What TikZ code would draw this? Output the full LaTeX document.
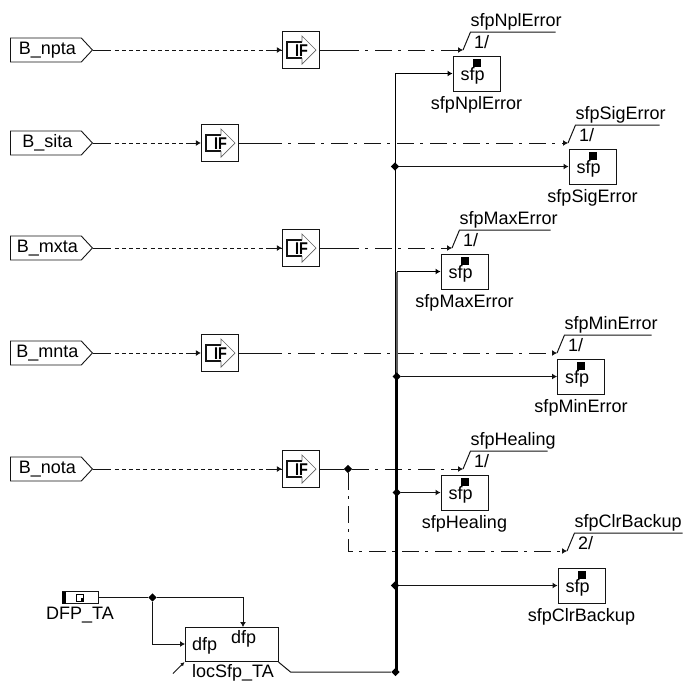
\documentclass[tikz,border=0pt]{standalone}
\usepackage{fontspec}
\setmainfont{Liberation Sans}
\usetikzlibrary{arrows.meta,positioning,calc,shapes.symbols,shapes.geometric}
\definecolor{lineblack}{RGB}{20,20,20}
\definecolor{arrowgray}{RGB}{95,95,95}
\tikzset{
  tagbox/.style={signal, signal to=east, signal pointer angle=94, draw=lineblack, line width=0.9pt, minimum width=82, minimum height=24, inner sep=0pt, anchor=west},
  ifblock/.style={draw=lineblack, line width=1.1pt, minimum size=37, inner sep=0pt},
  ifshaft/.style={line width=1.1pt, lineblack},
  ifhead/.style={line width=0.7pt, arrowgray},
  iftext/.style={font=\fontsize{17}{17}\selectfont\bfseries, inner sep=0pt, xscale=0.85, transform shape},
  sfpblock/.style={draw=lineblack, line width=1pt, minimum width=47, minimum height=35, inner sep=0pt},
  sfptext/.style={inner sep=0pt, anchor=base west},
  sigline/.style={line width=1pt, lineblack},
  dotline/.style={sigline, dash pattern=on 4pt off 3.2pt},
  dashdot/.style={sigline, dash pattern=on 17pt off 6pt on 3pt off 7pt},
  tiparrow/.style={-{Latex[length=5pt,width=6pt]}},
  busline/.style={line width=1pt, black},
  junc/.style={diamond, fill=black, inner sep=0pt, minimum size=8.5},
}
\begin{document}
\begin{tikzpicture}[x=1pt,y=-1pt,font=\fontsize{18}{20}\selectfont]
\useasboundingbox (0,0) rectangle (684,686);
% input tags and IF blocks
\foreach \nm/\txt/\ry/\ix in {npta/B\_npta/50/301,sita/B\_sita/143/220,mxta/B\_mxta/248/301,mnta/B\_mnta/353/220,nota/B\_nota/469/301}{
  \node[tagbox] (tag\nm) at (10,\ry) {\hspace*{3pt}\txt};
  \node[ifblock] (if\nm) at (\ix,\ry) {};
  \draw[ifshaft,shift={(if\nm.center)}] (1,-8) -- (-14,-8) -- (-14,8) -- (1,8);
  \draw[ifhead,shift={(if\nm.center)}] (1,-8) -- (1,-14) -- (15,0) -- (1,14) -- (1,8);
  \node[iftext] (iflbl\nm) at ($(if\nm.center)+(0.5,0.5)$) {IF};
  \draw[dotline] (tag\nm.east) -- (if\nm.west);
  \draw[sigline] (tag\nm.east) -- ++(14,0);
  \draw[sigline,tiparrow] (if\nm.west) ++(-15,0) -- (if\nm.west);
}
% sfp blocks with their message labels
\foreach \nm/\txt/\bx/\by/\tx/\ty/\len/\cnt in {npl/sfpNplError/476.5/73.5/463/50/85/1,sig/sfpSigError/592.5/166.5/568/143/84/1,max/sfpMaxError/464.5/271.5/452/248/91/1,min/sfpMinError/581/376.5/557/353/87/1,heal/sfpHealing/464.5/492.5/463/469/77/1,clr/sfpClrBackup/581.5/585.5/567/551/108/2}{
  \node[sfpblock] (\nm) at (\bx,\by) {};
  \node[sfptext] (\nm txt) at ($(\nm.west)+(8,7)$) {sfp};
  \fill ($(\nm.north)+(-4,3)$) rectangle ++(8,8);
  \node[below=5pt of \nm, inner sep=0pt] (\nm cap) {\txt};
  \coordinate (\nm tip) at (\tx,\ty);
  \coordinate (\nm top) at ($(\nm tip)+(7.5,-18)$);
  \draw[sigline] (\nm tip) -- (\nm top) -- ++(\len,0);
  \node[sfptext] (\nm name) at ($(\nm top)+(0,-6)$) {\txt};
  \node[sfptext] (\nm cnt) at ($(\nm top)+(3.5,16)$) {\cnt/};
}
% message lines
\draw[sigline] (ifnpta.east) -- ++(22,0);
\draw[dashdot,tiparrow] (ifnpta.east) ++(22,0) -- (npltip);
\draw[sigline] (ifsita.east) -- ++(26,0);
\draw[dashdot,tiparrow] (ifsita.east) ++(26,0) -- (sigtip);
\draw[sigline] (ifmxta.east) -- ++(22,0);
\draw[dashdot,tiparrow] (ifmxta.east) ++(22,0) -- (maxtip);
\draw[sigline] (ifmnta.east) -- ++(26,0);
\draw[dashdot,tiparrow] (ifmnta.east) ++(26,0) -- (mintip);
\node[junc] (jnota) at (348,469) {};
\draw[sigline] (ifnota.east) -- (jnota);
\draw[dashdot,tiparrow] (jnota) -- (healtip);
\draw[dashdot,tiparrow] (jnota) |- (clrtip);
% dfp block
\node[draw=lineblack, line width=1pt, minimum width=93, minimum height=34.5, inner sep=0pt] (loc) at (231.5,644.3) {};
\node[sfptext] (locl) at (192,650) {dfp};
\node[sfptext] (locr) at (231,643) {dfp};
\node[inner sep=0pt] (loccap) at (233,673) {locSfp\_TA};
\node[draw=lineblack, line width=0.9pt, minimum width=36, minimum height=11.5, inner sep=0pt] (dfpta) at (80,597.5) {};
\fill (dfpta.south west) rectangle ++(4.5,-11.5);
\node[draw=black, line width=0.9pt, minimum width=6.5, minimum height=7, inner sep=0pt] (dfpicon) at (80,597.5) {};
\fill (dfpicon.south east) rectangle ++(-3,-3);
\node[inner sep=0pt] (dfpcap) at (80,615) {DFP\_TA};
\node[junc] (jdfp) at (152.5,597.5) {};
\coordinate (loctop) at (243,627);
\coordinate (locin) at (185,644);
\coordinate (locrst) at (173,673.5);
\draw[sigline] (dfpta.east) -- (jdfp);
\draw[sigline,tiparrow] (jdfp) -| (loctop);
\draw[sigline,tiparrow] (jdfp) |- (locin);
\draw[sigline,-{Latex[length=4pt,width=4pt]}] (locrst) -- (loc.south west);
% bus lines
\coordinate (busa) at (395,672);
\coordinate (busb) at (396.8,672);
\node[junc] (jbus) at (395.5,672) {};
\coordinate (locout) at ($(loc.south east)+(12,0)$);
\draw[sigline] (loc.south east) -- (locout |- jbus) -- (jbus);
\draw[busline,tiparrow] (busa) |- (npl.west);
\draw[busline,arrowgray,line width=1.6pt] (busb) -- (busb |- max.west);
\draw[busline,tiparrow] (busb |- max.west) -- (max.west);
\draw[busline,line width=2.2pt] (busb) -- (busb |- min.west);
\node[junc] (jsig) at (busa |- sig.west) {};
\node[junc] (jmin) at (busb |- min.west) {};
\node[junc] (jheal) at (busb |- heal.west) {};
\node[junc] (jclr) at (busa |- clr.west) {};
\draw[sigline,tiparrow] (jsig) -- (sig.west);
\draw[sigline,tiparrow] (jmin) -- (min.west);
\draw[sigline,tiparrow] (jheal) -- (heal.west);
\draw[sigline,tiparrow] (jclr) -- (clr.west);
\end{tikzpicture}
\end{document}
